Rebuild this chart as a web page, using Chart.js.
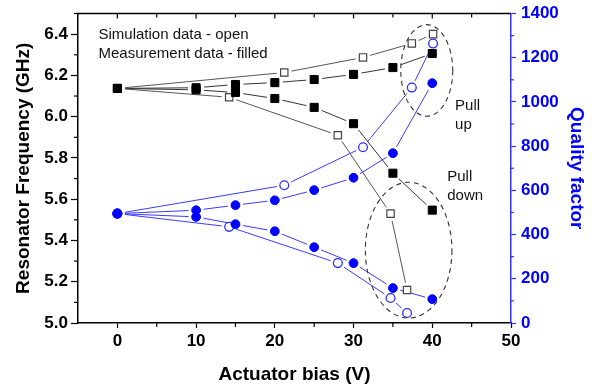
<!DOCTYPE html>
<html><head><meta charset="utf-8">
<script src="https://cdn.jsdelivr.net/npm/chart.js@4.4.0/dist/chart.umd.min.js"></script>
<style>html,body{margin:0;padding:0;background:#fff}canvas{display:block}</style>
</head><body>
<canvas id="c" width="595" height="385"></canvas>
<script>
// ---- data ----
const measBias = [0, 10, 15, 20, 25, 30, 35, 40];
const simUpBias = [0, 21.2, 31.2, 37.4, 40.1];
const simDownBias = [0, 14.2, 28, 34.7, 36.8];

const measFreqUp = [6.137, 6.14, 6.156, 6.165, 6.18, 6.205, 6.238, 6.306];
const measFreqDown = [6.137, 6.13, 6.117, 6.088, 6.045, 5.966, 5.726, 5.547];
const simFreqUp = [6.137, 6.214, 6.287, 6.355, 6.40];
const simFreqDown = [6.137, 6.094, 5.91, 5.53, 5.16];

const measQUp = [495, 510, 533, 555, 601, 657, 768, 1085];
const measQDown = [495, 480, 447, 415, 343, 271, 158, 108];
const simQUp = [495, 623, 795, 1065, 1264];
const simQDown = [495, 435, 271, 113, 45];

const xTicks = [0, 10, 20, 30, 40, 50];
const xMinor = [-5, 5, 15, 25, 35, 45];
const freqTicks = [5.0, 5.2, 5.4, 5.6, 5.8, 6.0, 6.2, 6.4];
const freqMinor = [5.1, 5.3, 5.5, 5.7, 5.9, 6.1, 6.3, 6.5];
const qTicks = [0, 200, 400, 600, 800, 1000, 1200, 1400];
const qMinor = [100, 300, 500, 700, 900, 1100, 1300];

const legendLines = ['Simulation data - open', 'Measurement data - filled'];
const noteUp = ['Pull', 'up'];
const noteDown = ['Pull', 'down'];

// ---- styling / helpers ----
const FONT = "'Liberation Sans', Arial, sans-serif";
const BLUE = '#0000ff';
const BLUE_LINE = '#3a3aff';
const BLUE_AXIS = '#3333ff';

function pts(xs, ys) { return xs.map((x, i) => ({ x: x, y: ys[i] })); }

const filledSq = { pointStyle: 'rect', pointRadius: 5.7, pointBackgroundColor: '#000', pointBorderColor: '#000', pointBorderWidth: 1, gapLine: { color: '#333', gap: 8 }, yAxisID: 'y', order: 1 };
const openSq = { pointStyle: 'rect', pointRadius: 5.2, pointBackgroundColor: '#fff', pointBorderColor: '#444', pointBorderWidth: 1.2, gapLine: { color: '#555', gap: 7.5 }, yAxisID: 'y', order: 2 };
const filledCi = { pointStyle: 'circle', pointRadius: 4.4, pointBackgroundColor: BLUE, pointBorderColor: BLUE, pointBorderWidth: 1, gapLine: { color: BLUE_LINE, gap: 7.5 }, yAxisID: 'y2', order: 1 };
const openCi = { pointStyle: 'circle', pointRadius: 4.4, pointBackgroundColor: '#fff', pointBorderColor: '#2a2aff', pointBorderWidth: 1.3, gapLine: { color: BLUE_LINE, gap: 7.5 }, yAxisID: 'y2', order: 2 };

const datasets = [
  Object.assign({ label: 'Meas f up', data: pts(measBias, measFreqUp) }, filledSq),
  Object.assign({ label: 'Meas f down', data: pts(measBias, measFreqDown) }, filledSq),
  Object.assign({ label: 'Sim f up', data: pts(simUpBias, simFreqUp) }, openSq),
  Object.assign({ label: 'Sim f down', data: pts(simDownBias, simFreqDown) }, openSq),
  Object.assign({ label: 'Meas Q up', data: pts(measBias, measQUp) }, filledCi),
  Object.assign({ label: 'Meas Q down', data: pts(measBias, measQDown) }, filledCi),
  Object.assign({ label: 'Sim Q up', data: pts(simUpBias, simQUp) }, openCi),
  Object.assign({ label: 'Sim Q down', data: pts(simDownBias, simQDown) }, openCi)
].map(d => Object.assign(d, { showLine: false }));

// annotation placement in data units (bias, frequency)
const ellipses = [
  { cx: 39.3, cy: 6.224, rx: 3.3, ry: 0.222 },
  { cx: 37.0, cy: 5.353, rx: 5.5, ry: 0.329 }
];
const legendPos = { x: -2.4, y: 6.398, dy: 0.092 };
const notePosUp = { x: 42.9, y: 6.05, dy: 0.09 };
const notePosDown = { x: 41.9, y: 5.707, dy: 0.09 };

// Origin-style connecting lines with a gap around each marker,
// drawn between the points positioned by Chart.js' own scales.
const gapLines = {
  id: 'gapLines',
  beforeDatasetsDraw(chart) {
    const ctx = chart.ctx;
    ctx.save();
    ctx.lineWidth = 1;
    chart.data.datasets.forEach((ds, i) => {
      const g = ds.gapLine;
      if (!g) return;
      const els = chart.getDatasetMeta(i).data;
      ctx.strokeStyle = g.color;
      for (let k = 0; k < els.length - 1; k++) {
        const p = els[k], q = els[k + 1];
        const dx = q.x - p.x, dy = q.y - p.y;
        const len = Math.hypot(dx, dy);
        if (len <= 2 * g.gap + 1) continue;
        const ux = dx / len, uy = dy / len;
        ctx.beginPath();
        ctx.moveTo(p.x + ux * g.gap, p.y + uy * g.gap);
        ctx.lineTo(q.x - ux * g.gap, q.y - uy * g.gap);
        ctx.stroke();
      }
    });
    ctx.restore();
  }
};

const decor = {
  id: 'decor',
  afterDraw(chart) {
    const ctx = chart.ctx, a = chart.chartArea;
    const x = chart.scales.x, y = chart.scales.y, y2 = chart.scales.y2;
    function ln(x1, y1, x2, y2_) { ctx.beginPath(); ctx.moveTo(x1, y1); ctx.lineTo(x2, y2_); ctx.stroke(); }
    ctx.save();
    ctx.setLineDash([]);
    ctx.strokeStyle = '#000'; ctx.lineWidth = 1.3;
    ln(a.left - 0.7, a.top, a.right, a.top);
    ctx.lineWidth = 1.2;
    xTicks.forEach(v => { const p = x.getPixelForValue(v); if (p < a.right - 1) ln(p, a.top, p, a.top + 5); });
    xMinor.forEach(v => {
      const p = x.getPixelForValue(v);
      if (p <= a.left + 1) return;
      ln(p, a.bottom, p, a.bottom + 4);
      ln(p, a.top, p, a.top + 4);
    });
    freqMinor.forEach(v => { const p = y.getPixelForValue(v); ln(a.left - 4, p, a.left, p); });
    ctx.strokeStyle = BLUE_AXIS;
    qMinor.forEach(v => { const p = y2.getPixelForValue(v); ln(a.right, p, a.right + 3, p); });

    // dashed ellipses
    ctx.setLineDash([5, 4]);
    ctx.strokeStyle = '#333'; ctx.lineWidth = 1.1;
    ellipses.forEach(e => {
      const cx = x.getPixelForValue(e.cx), cy = y.getPixelForValue(e.cy);
      const rx = Math.abs(x.getPixelForValue(e.cx + e.rx) - cx);
      const ry = Math.abs(y.getPixelForValue(e.cy + e.ry) - cy);
      ctx.beginPath(); ctx.ellipse(cx, cy, rx, ry, 0, 0, Math.PI * 2); ctx.stroke();
    });
    ctx.setLineDash([]);

    // texts
    ctx.fillStyle = '#111';
    ctx.font = '15px ' + FONT;
    ctx.textAlign = 'left'; ctx.textBaseline = 'middle';
    legendLines.forEach((t, i) => ctx.fillText(t, x.getPixelForValue(legendPos.x), y.getPixelForValue(legendPos.y - i * legendPos.dy)));
    noteUp.forEach((t, i) => ctx.fillText(t, x.getPixelForValue(notePosUp.x), y.getPixelForValue(notePosUp.y - i * notePosUp.dy)));
    noteDown.forEach((t, i) => ctx.fillText(t, x.getPixelForValue(notePosDown.x), y.getPixelForValue(notePosDown.y - i * notePosDown.dy)));
    ctx.restore();
  }
};

const tickFont = { family: FONT, size: 17, weight: 'bold', lineHeight: 1 };
const titleFont = { family: FONT, size: 19, weight: 'bold', lineHeight: 1 };

new Chart(document.getElementById('c'), {
  type: 'scatter',
  data: { datasets: datasets },
  plugins: [gapLines, decor],
  options: {
    responsive: false,
    animation: false,
    devicePixelRatio: 1,
    layout: { padding: { top: 13, left: 0, right: 0, bottom: 0 } },
    plugins: { legend: { display: false }, tooltip: { enabled: false } },
    scales: {
      x: {
        type: 'linear', position: 'bottom', min: -5, max: 50,
        afterBuildTicks: s => { s.ticks = xTicks.map(v => ({ value: v })); },
        afterFit: s => { s.height = 62; },
        ticks: { font: tickFont, color: '#000', padding: 5, maxRotation: 0, autoSkip: false },
        grid: { drawOnChartArea: false, drawTicks: true, tickLength: 5, tickColor: '#000', tickWidth: 1.2 },
        border: { color: '#000', width: 1.5 },
        title: { display: true, text: 'Actuator bias (V)', font: titleFont, color: '#000', padding: { top: 0, bottom: 1 } }
      },
      y: {
        type: 'linear', position: 'left', min: 5.0, max: 6.5,
        afterBuildTicks: s => { s.ticks = freqTicks.map(v => ({ value: v })); },
        afterFit: s => { s.width = 78; },
        ticks: { font: tickFont, color: '#000', padding: 3, callback: v => Number(v).toFixed(1) },
        grid: { drawOnChartArea: false, drawTicks: true, tickLength: 7, tickColor: '#000', tickWidth: 1.2 },
        border: { color: '#000', width: 1.5 },
        title: { display: true, text: 'Resonator Frequency (GHz)', font: titleFont, color: '#000', padding: { top: 14, bottom: 0 } }
      },
      y2: {
        type: 'linear', position: 'right', min: 0, max: 1400,
        afterBuildTicks: s => { s.ticks = qTicks.map(v => ({ value: v })); },
        afterFit: s => { s.width = 84; },
        ticks: { font: tickFont, color: BLUE, padding: 5, callback: v => String(v) },
        grid: { drawOnChartArea: false, drawTicks: true, tickLength: 5, tickColor: BLUE_AXIS, tickWidth: 1.2 },
        border: { color: BLUE_AXIS, width: 1.5 },
        title: { display: true, text: 'Quality factor', font: titleFont, color: BLUE, padding: { top: 9, bottom: 0 } }
      }
    }
  }
});
</script>
</body></html>
